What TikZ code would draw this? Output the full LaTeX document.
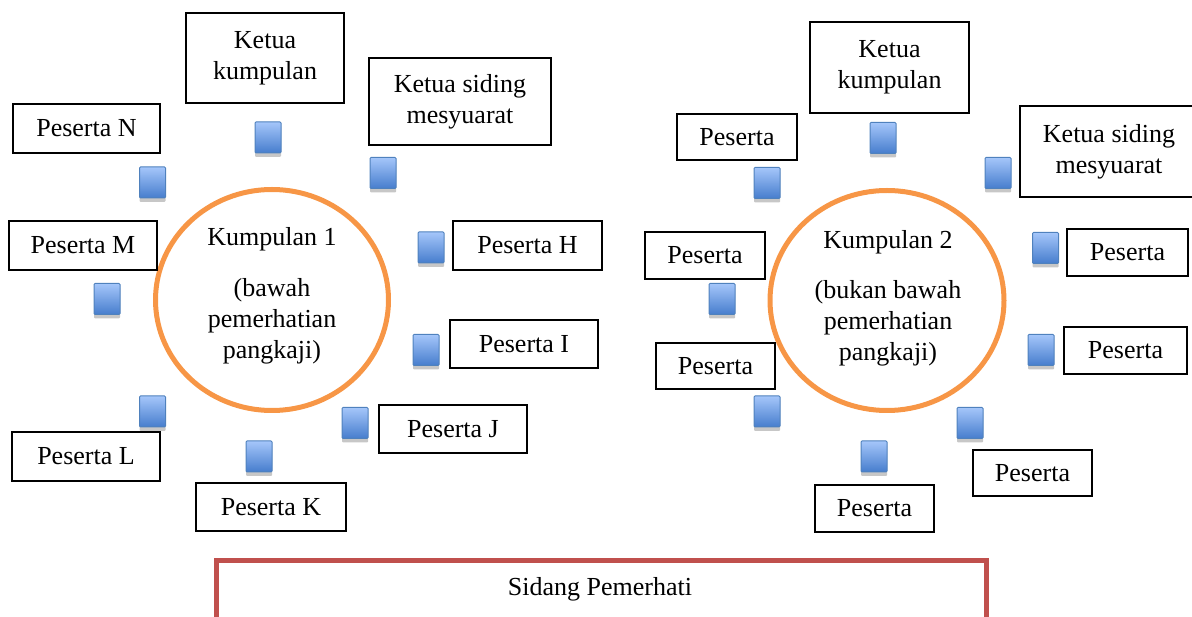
\documentclass[tikz,border=0pt]{standalone}
\usepackage{fontspec}
\setmainfont{Liberation Serif}
\usetikzlibrary{shapes.geometric,shadows}
\definecolor{ringorange}{RGB}{247,150,70}
\definecolor{benchred}{RGB}{192,80,77}
\definecolor{seattop}{RGB}{165,198,250}
\definecolor{seatbot}{RGB}{70,125,205}
\definecolor{seatborder}{RGB}{79,129,189}
\tikzset{
  lbl/.style={draw=black, line width=2pt, inner sep=0pt, align=center,
    font=\fontsize{26}{31}\selectfont},
  seat/.style={minimum width=26pt, minimum height=31pt, inner sep=0pt,
    draw=seatborder, line width=1pt, rounded corners=1pt,
    top color=seattop, bottom color=seatbot,
    drop shadow={shadow xshift=0pt, shadow yshift=-4pt, opacity=0.22, fill=black}},
  ring/.style={ellipse, draw=ringorange, line width=5pt, inner sep=0pt},
  ringtext/.style={align=center, inner sep=0pt, font=\fontsize{26}{31}\selectfont},
  bench/.style={draw=benchred, line width=5pt, line join=miter},
}
\begin{document}
\begin{tikzpicture}[x=1pt,y=-1pt]
\useasboundingbox (0,0) rectangle (1192,617);

% ---------- Group 1 ----------
\node[ring, minimum width=233pt, minimum height=221pt] (c1) at (272,300) {};
\node[ringtext] (t1) at (272,296) {Kumpulan 1\\[20pt](bawah\\pemerhatian\\pangkaji)};

\node[lbl, minimum width=158pt, minimum height=90pt] (k1) at (265,58) {Ketua\\kumpulan};
\node[lbl, minimum width=182pt, minimum height=87pt] (s1) at (460,101.5) {Ketua siding\\mesyuarat};
\node[lbl, minimum width=147pt, minimum height=49pt] (pN) at (86.5,128.5) {Peserta N};
\node[lbl, minimum width=148pt, minimum height=49pt] (pM) at (83,245.5) {Peserta M};
\node[lbl, minimum width=149pt, minimum height=49pt] (pH) at (527.5,245.5) {Peserta H};
\node[lbl, minimum width=148pt, minimum height=48pt] (pI) at (524,344) {Peserta I};
\node[lbl, minimum width=148pt, minimum height=48pt] (pJ) at (453,429) {Peserta J};
\node[lbl, minimum width=148pt, minimum height=49pt] (pL) at (86,456.5) {Peserta L};
\node[lbl, minimum width=150pt, minimum height=48pt] (pK) at (271,507) {Peserta K};

\node[seat] (a1) at (268,137.5) {};
\node[seat] (a2) at (152.5,182.5) {};
\node[seat] (a3) at (383,173) {};
\node[seat] (a4) at (431,247.5) {};
\node[seat] (a5) at (107,299) {};
\node[seat] (a6) at (426,350) {};
\node[seat] (a7) at (152.5,411.5) {};
\node[seat] (a8) at (355,423) {};
\node[seat] (a9) at (259,456.5) {};

% ---------- Group 2 ----------
\node[ring, minimum width=234pt, minimum height=220pt] (c2) at (887,300.5) {};
\node[ringtext] (t2) at (888,298) {Kumpulan 2\\[19pt](bukan bawah\\pemerhatian\\pangkaji)};

\node[lbl, minimum width=159pt, minimum height=91pt] (k2) at (889.5,67.5) {Ketua\\kumpulan};
\node[lbl, minimum width=178pt, minimum height=91pt] (s2) at (1109,151.5) {Ketua siding\\mesyuarat};
\node[lbl, minimum width=120pt, minimum height=46pt] (q1) at (737,137) {Peserta};
\node[lbl, minimum width=120pt, minimum height=47pt] (q2) at (705,255.5) {Peserta};
\node[lbl, minimum width=119pt, minimum height=46pt] (q3) at (715.5,366) {Peserta};
\node[lbl, minimum width=121pt, minimum height=47pt] (q4) at (1127.5,252.5) {Peserta};
\node[lbl, minimum width=123pt, minimum height=47pt] (q5) at (1125.5,350.5) {Peserta};
\node[lbl, minimum width=119pt, minimum height=46pt] (q6) at (1032.5,473) {Peserta};
\node[lbl, minimum width=119pt, minimum height=47pt] (q7) at (874.5,508.5) {Peserta};

\node[seat] (b1) at (767,183) {};
\node[seat] (b2) at (883,138) {};
\node[seat] (b3) at (998,173) {};
\node[seat] (b4) at (1045.5,248) {};
\node[seat] (b5) at (722,299) {};
\node[seat] (b6) at (1041,350) {};
\node[seat] (b7) at (767,411.5) {};
\node[seat] (b8) at (970,423) {};
\node[seat] (b9) at (874,456.5) {};

% ---------- Observer bench ----------
\draw[bench] (216,625) -- (216,560.5) -- (986.5,560.5) -- (986.5,625);
\node[anchor=base, inner sep=0pt, font=\fontsize{26}{31}\selectfont] (obs) at (600,595) {Sidang Pemerhati};
\end{tikzpicture}
\end{document}
